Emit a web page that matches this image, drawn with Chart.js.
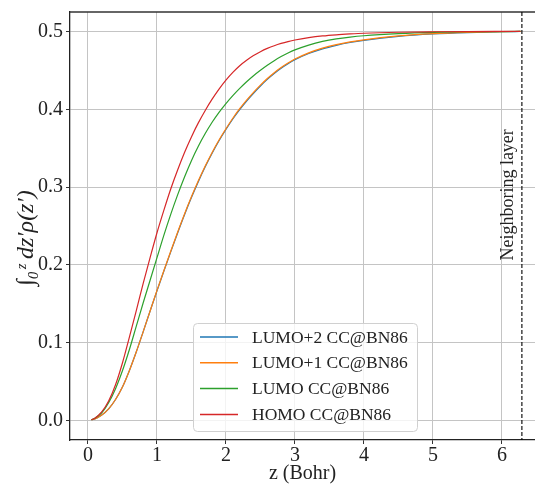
<!DOCTYPE html>
<html lang="en">
<head>
    <meta charset="UTF-8">
    <title>Integrated density</title>
    <script src="https://cdn.jsdelivr.net/npm/chart.js"></script>
    <style>
        html, body { margin: 0; padding: 0; overflow: hidden; background: #fff; }
        #wrap { width: 535px; height: 486px; }
    </style>
</head>
<body>
    <div id="wrap"><canvas id="densChart" width="535" height="486"></canvas></div>

    <script>
        // z positions (Bohr) and integrated density of each orbital
        const zBohr = [0.05, 0.1, 0.2, 0.3, 0.4, 0.5, 0.6, 0.7, 0.8, 0.9, 1.0, 1.1, 1.2, 1.3, 1.4, 1.5, 1.6, 1.7, 1.8, 1.9, 2.0, 2.1, 2.2, 2.3, 2.4, 2.5, 2.6, 2.7, 2.8, 2.9, 3.0, 3.2, 3.4, 3.6, 3.8, 4.0, 4.5, 5.0, 5.5, 6.0, 6.27];
        const lumo2 = [0.001, 0.002, 0.007, 0.015, 0.027, 0.043, 0.064, 0.088, 0.114, 0.1405, 0.1665, 0.1918, 0.2167, 0.2411, 0.2645, 0.2865, 0.307, 0.326, 0.3435, 0.3595, 0.374, 0.3875, 0.3996, 0.4106, 0.4206, 0.4299, 0.4384, 0.4459, 0.4526, 0.4584, 0.4636, 0.4716, 0.4777, 0.4822, 0.4858, 0.4886, 0.4937, 0.4968, 0.4986, 0.4996, 0.5];
        const lumo1 = [0.001, 0.002, 0.007, 0.015, 0.027, 0.043, 0.064, 0.088, 0.114, 0.1405, 0.167, 0.1925, 0.2175, 0.242, 0.2655, 0.2875, 0.308, 0.327, 0.3445, 0.3605, 0.375, 0.3885, 0.4007, 0.4117, 0.4217, 0.431, 0.4395, 0.447, 0.4536, 0.4594, 0.4645, 0.4725, 0.4785, 0.483, 0.4865, 0.4893, 0.4942, 0.4972, 0.4988, 0.4997, 0.5];
        const lumo = [0.001, 0.003, 0.010, 0.023, 0.041, 0.064, 0.091, 0.121, 0.151, 0.180, 0.209, 0.238, 0.265, 0.290, 0.313, 0.334, 0.3525, 0.3688, 0.3833, 0.3961, 0.4074, 0.4176, 0.4269, 0.4354, 0.4431, 0.4501, 0.4566, 0.4625, 0.4677, 0.4723, 0.4763, 0.4825, 0.4872, 0.4905, 0.4928, 0.4945, 0.4972, 0.4988, 0.4996, 0.4999, 0.5];
        const homo = [0.001, 0.003, 0.011, 0.025, 0.046, 0.074, 0.107, 0.141, 0.176, 0.209, 0.241, 0.270, 0.2975, 0.322, 0.3445, 0.3645, 0.3825, 0.3985, 0.413, 0.426, 0.4375, 0.4475, 0.456, 0.463, 0.469, 0.474, 0.4782, 0.4817, 0.4846, 0.487, 0.489, 0.492, 0.4942, 0.4957, 0.4968, 0.4977, 0.499, 0.4996, 0.4999, 0.5, 0.5];
        const seriesNames = ['LUMO+2 CC@BN86', 'LUMO+1 CC@BN86', 'LUMO CC@BN86', 'HOMO CC@BN86'];
        const seriesColors = ['#1f77b4', '#ff7f0e', '#2ca02c', '#d62728'];
        const xTicks = [0, 1, 2, 3, 4, 5, 6];
        const yTicks = [0.0, 0.1, 0.2, 0.3, 0.4, 0.5];
        const layerZ = 6.29;
        const layerLabel = 'Neighboring layer';

        const serif = "'Liberation Serif', 'DejaVu Serif', serif";
        const allSeries = [lumo2, lumo1, lumo, homo];

        // later series are painted on top (matplotlib order)
        const datasets = allSeries.map((vals, i) => ({
            label: seriesNames[i],
            data: zBohr.map((z, k) => ({ x: z, y: vals[k] })),
            borderColor: seriesColors[i],
            borderWidth: 1.2,
            pointRadius: 0,
            fill: false,
            order: allSeries.length - i,
            cubicInterpolationMode: 'monotone'
        }));

        // dashed line, its label, top spine and the legend box
        const extras = {
            id: 'extras',
            afterDatasetsDraw(chart) {
                const { ctx, chartArea, scales } = chart;
                const xs = scales.x, ys = scales.y;
                ctx.save();

                ctx.strokeStyle = '#333';
                ctx.lineWidth = 1.3;
                ctx.beginPath();
                ctx.moveTo(chartArea.left, chartArea.top);
                ctx.lineTo(chartArea.right, chartArea.top);
                ctx.stroke();

                const lx = xs.getPixelForValue(layerZ);
                ctx.strokeStyle = '#000';
                ctx.lineWidth = 1.1;
                ctx.setLineDash([4, 2]);
                ctx.beginPath();
                ctx.moveTo(lx, chartArea.top);
                ctx.lineTo(lx, chartArea.bottom);
                ctx.stroke();
                ctx.setLineDash([]);

                ctx.save();
                ctx.translate(lx - 9, ys.getPixelForValue(0.29));
                ctx.rotate(-Math.PI / 2);
                ctx.fillStyle = '#222';
                ctx.font = '18px ' + serif;
                ctx.textAlign = 'center';
                ctx.textBaseline = 'alphabetic';
                ctx.fillText(layerLabel, 0, 0);
                ctx.restore();

                // legend
                const bx = chartArea.left + 123, by = chartArea.top + 311;
                const bw = 224, bh = 108;
                ctx.fillStyle = 'rgba(255,255,255,0.8)';
                ctx.strokeStyle = '#d0d0d0';
                ctx.lineWidth = 1;
                ctx.beginPath();
                ctx.roundRect(bx + 0.5, by + 0.5, bw, bh, 4);
                ctx.fill();
                ctx.stroke();

                ctx.font = '17.5px ' + serif;
                ctx.textAlign = 'left';
                ctx.textBaseline = 'middle';
                chart.data.datasets.forEach((ds, i) => {
                    const ry = by + 14 + i * 25.8;
                    ctx.strokeStyle = ds.borderColor;
                    ctx.lineWidth = 1.5;
                    ctx.beginPath();
                    ctx.moveTo(bx + 7, ry);
                    ctx.lineTo(bx + 45, ry);
                    ctx.stroke();
                    ctx.fillStyle = '#222';
                    ctx.fillText(ds.label, bx + 59, ry + 1);
                });

                ctx.restore();
            }
        };

        const ctx = document.getElementById('densChart').getContext('2d');
        new Chart(ctx, {
            type: 'line',
            data: { datasets },
            options: {
                responsive: false,
                animation: false,
                layout: { padding: { top: 12, right: 0, left: 0, bottom: 0 } },
                plugins: { legend: { display: false }, tooltip: { enabled: false } },
                scales: {
                    x: {
                        type: 'linear',
                        min: -0.26,
                        max: 6.48,
                        afterFit: s => { s.height = 46; s.paddingLeft = 0; s.paddingRight = 0; },
                        afterBuildTicks: s => { s.ticks = xTicks.map(v => ({ value: v })); },
                        ticks: {
                            includeBounds: false,
                            color: '#222',
                            font: { family: serif, size: 20 },
                            padding: 0,
                            maxRotation: 0,
                            callback: v => String(v)
                        },
                        grid: { color: '#c4c4c4', lineWidth: 1, tickLength: 4, tickColor: '#333' },
                        border: { color: '#222', width: 1.3 },
                        title: {
                            display: true,
                            text: 'z (Bohr)',
                            color: '#222',
                            font: { family: serif, size: 20 },
                            padding: { top: 0, bottom: 0 }
                        }
                    },
                    y: {
                        type: 'linear',
                        min: -0.025,
                        max: 0.525,
                        afterFit: s => { s.width = 70; s.paddingTop = 0; s.paddingBottom = 0; },
                        afterBuildTicks: s => { s.ticks = yTicks.map(v => ({ value: v })); },
                        ticks: {
                            color: '#222',
                            font: { family: serif, size: 20 },
                            padding: 3,
                            callback: v => v.toFixed(1)
                        },
                        grid: { color: '#c4c4c4', lineWidth: 1, tickLength: 4, tickColor: '#333' },
                        border: { color: '#222', width: 1.3 },
                        title: {
                            display: true,
                            text: '∫₀ᶻ dz′ρ(z′)    ',
                            color: '#222',
                            font: { family: serif, size: 24, style: 'italic' },
                            padding: { top: 12, bottom: 0 }
                        }
                    }
                }
            },
            plugins: [extras]
        });
    </script>
</body>
</html>
